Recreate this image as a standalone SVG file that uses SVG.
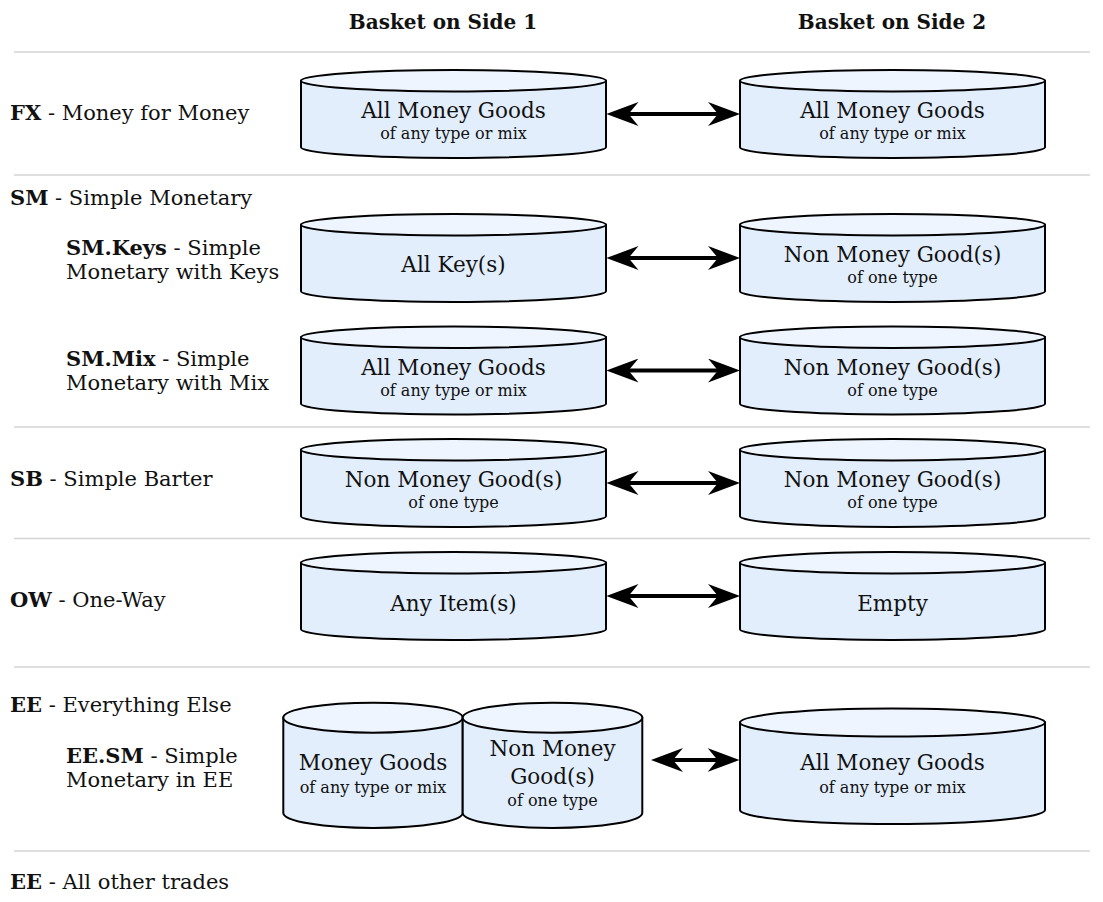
<svg xmlns="http://www.w3.org/2000/svg" width="1103" height="902" viewBox="0 0 1103 902">
<style>
text{font-family:"DejaVu Serif","Liberation Serif",serif;fill:#111}
.hdr{font-size:20px;font-weight:bold;text-anchor:middle}
.lbl{font-size:21px}
.b{font-weight:bold}
.big{font-size:21.5px;text-anchor:middle}
.sm{font-size:16px;text-anchor:middle}
.body{fill:#e2eefc;stroke:#000;stroke-width:2}
.top{fill:#eef5fe;stroke:#000;stroke-width:2}
.sep{stroke:#d4d4d4;stroke-width:1.5}
.arr{stroke:#000;stroke-width:4;fill:none;marker-start:url(#ah);marker-end:url(#ah)}
</style>
<defs>
<marker id="ah" viewBox="0 0 32 24" refX="22" refY="12" markerWidth="32" markerHeight="24" markerUnits="userSpaceOnUse" orient="auto-start-reverse">
<path d="M0,0 L32,12 L0,24 L10,12 Z" fill="#000"/>
</marker>
</defs>
<rect width="1103" height="902" fill="#fff"/>
<g id="headers">
<text class="hdr" x="443" y="29">Basket on Side 1</text>
<text class="hdr" x="892" y="29">Basket on Side 2</text>
</g>
<g id="separators">
<line class="sep" x1="14" y1="52" x2="1090" y2="52"/>
<line class="sep" x1="14" y1="175" x2="1090" y2="175"/>
<line class="sep" x1="14" y1="427" x2="1090" y2="427"/>
<line class="sep" x1="14" y1="538.5" x2="1090" y2="538.5"/>
<line class="sep" x1="14" y1="667" x2="1090" y2="667"/>
<line class="sep" x1="14" y1="851" x2="1090" y2="851"/>
</g>
<g id="labels">
<text class="lbl" x="10" y="120"><tspan class="b">FX</tspan> - Money for Money</text>
<text class="lbl" x="10" y="205"><tspan class="b">SM</tspan> - Simple Monetary</text>
<text class="lbl" x="66" y="255"><tspan class="b">SM.Keys</tspan> - Simple</text>
<text class="lbl" x="66" y="279">Monetary with Keys</text>
<text class="lbl" x="66" y="366"><tspan class="b">SM.Mix</tspan> - Simple</text>
<text class="lbl" x="66" y="390">Monetary with Mix</text>
<text class="lbl" x="10" y="486"><tspan class="b">SB</tspan> - Simple Barter</text>
<text class="lbl" x="10" y="607"><tspan class="b">OW</tspan> - One-Way</text>
<text class="lbl" x="10" y="712"><tspan class="b">EE</tspan> - Everything Else</text>
<text class="lbl" x="66" y="763"><tspan class="b">EE.SM</tspan> - Simple</text>
<text class="lbl" x="66" y="787">Monetary in EE</text>
<text class="lbl" x="10" y="889"><tspan class="b">EE</tspan> - All other trades</text>
</g>
<g id="fx-side1">
<path class="body" d="M301,80.7 V147.3 A152.5,10.7 0 0 0 606,147.3 V80.7 Z"/>
<ellipse class="top" cx="453.5" cy="80.7" rx="152.5" ry="10.7"/>
<text class="big" x="453.5" y="118">All Money Goods</text>
<text class="sm" x="453.5" y="139">of any type or mix</text>
</g>
<g id="fx-side2">
<path class="body" d="M740,80.7 V147.3 A152.5,10.7 0 0 0 1045,147.3 V80.7 Z"/>
<ellipse class="top" cx="892.5" cy="80.7" rx="152.5" ry="10.7"/>
<text class="big" x="892.5" y="118">All Money Goods</text>
<text class="sm" x="892.5" y="139">of any type or mix</text>
</g>
<g id="smkeys-side1">
<path class="body" d="M301,224.7 V291.3 A152.5,10.7 0 0 0 606,291.3 V224.7 Z"/>
<ellipse class="top" cx="453.5" cy="224.7" rx="152.5" ry="10.7"/>
<text class="big" x="453.5" y="272">All Key(s)</text>
</g>
<g id="smkeys-side2">
<path class="body" d="M740,224.7 V291.3 A152.5,10.7 0 0 0 1045,291.3 V224.7 Z"/>
<ellipse class="top" cx="892.5" cy="224.7" rx="152.5" ry="10.7"/>
<text class="big" x="892.5" y="262">Non Money Good(s)</text>
<text class="sm" x="892.5" y="283">of one type</text>
</g>
<g id="smmix-side1">
<path class="body" d="M301,337.2 V403.8 A152.5,10.7 0 0 0 606,403.8 V337.2 Z"/>
<ellipse class="top" cx="453.5" cy="337.2" rx="152.5" ry="10.7"/>
<text class="big" x="453.5" y="374.5">All Money Goods</text>
<text class="sm" x="453.5" y="395.5">of any type or mix</text>
</g>
<g id="smmix-side2">
<path class="body" d="M740,337.2 V403.8 A152.5,10.7 0 0 0 1045,403.8 V337.2 Z"/>
<ellipse class="top" cx="892.5" cy="337.2" rx="152.5" ry="10.7"/>
<text class="big" x="892.5" y="374.5">Non Money Good(s)</text>
<text class="sm" x="892.5" y="395.5">of one type</text>
</g>
<g id="sb-side1">
<path class="body" d="M301,449.7 V516.3 A152.5,10.7 0 0 0 606,516.3 V449.7 Z"/>
<ellipse class="top" cx="453.5" cy="449.7" rx="152.5" ry="10.7"/>
<text class="big" x="453.5" y="487">Non Money Good(s)</text>
<text class="sm" x="453.5" y="508">of one type</text>
</g>
<g id="sb-side2">
<path class="body" d="M740,449.7 V516.3 A152.5,10.7 0 0 0 1045,516.3 V449.7 Z"/>
<ellipse class="top" cx="892.5" cy="449.7" rx="152.5" ry="10.7"/>
<text class="big" x="892.5" y="487">Non Money Good(s)</text>
<text class="sm" x="892.5" y="508">of one type</text>
</g>
<g id="ow-side1">
<path class="body" d="M301,562.7 V629.3 A152.5,10.7 0 0 0 606,629.3 V562.7 Z"/>
<ellipse class="top" cx="453.5" cy="562.7" rx="152.5" ry="10.7"/>
<text class="big" x="453.5" y="611">Any Item(s)</text>
</g>
<g id="ow-side2">
<path class="body" d="M740,562.7 V629.3 A152.5,10.7 0 0 0 1045,629.3 V562.7 Z"/>
<ellipse class="top" cx="892.5" cy="562.7" rx="152.5" ry="10.7"/>
<text class="big" x="892.5" y="611">Empty</text>
</g>
<g id="eesm-side1-money">
<path class="body" d="M283.3,717.7 V813 A89.7,15 0 0 0 462.7,813 V717.7 Z"/>
<ellipse class="top" cx="373" cy="717.7" rx="89.7" ry="15"/>
<text class="big" x="373" y="770">Money Goods</text>
<text class="sm" x="373" y="792.5">of any type or mix</text>
</g>
<g id="eesm-side1-nonmoney">
<path class="body" d="M462.7,717.7 V813 A89.8,15 0 0 0 642.3,813 V717.7 Z"/>
<ellipse class="top" cx="552.5" cy="717.7" rx="89.8" ry="15"/>
<text class="big" x="552.5" y="756">Non Money</text>
<text class="big" x="552.5" y="784">Good(s)</text>
<text class="sm" x="552.5" y="806">of one type</text>
</g>
<g id="eesm-side2">
<path class="body" d="M740,722.5 V810 A152.5,14 0 0 0 1045,810 V722.5 Z"/>
<ellipse class="top" cx="892.5" cy="722.5" rx="152.5" ry="14"/>
<text class="big" x="892.5" y="770">All Money Goods</text>
<text class="sm" x="892.5" y="792.5">of any type or mix</text>
</g>
<g id="connectors">
<line class="arr" x1="616.5" y1="114" x2="730" y2="114"/>
<line class="arr" x1="616.5" y1="258" x2="730" y2="258"/>
<line class="arr" x1="616.5" y1="370.5" x2="730" y2="370.5"/>
<line class="arr" x1="616.5" y1="483" x2="730" y2="483"/>
<line class="arr" x1="616.5" y1="596" x2="730" y2="596"/>
<line class="arr" x1="661" y1="760" x2="729.5" y2="760"/>
</g>
</svg>
